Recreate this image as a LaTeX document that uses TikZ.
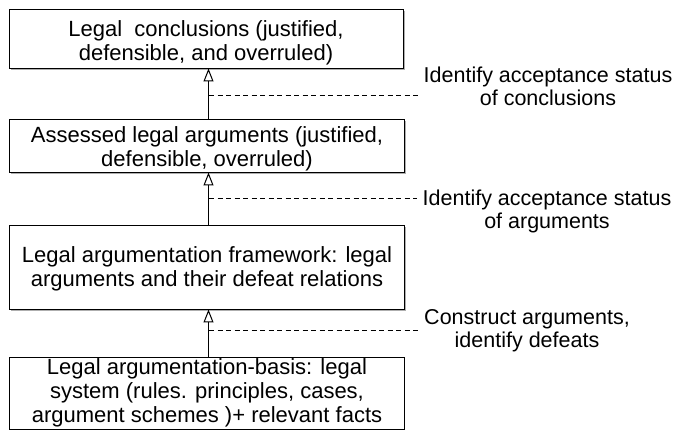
\documentclass[tikz,border=0pt]{standalone}
\usepackage{fontspec}
\setmainfont{Liberation Sans}
\usetikzlibrary{arrows.meta,shadows}
\begin{document}
\begin{tikzpicture}[x=1pt,y=-1pt,
  layerbox/.style={draw=black,line width=1.2pt,fill=white,
    drop shadow={shadow xshift=1.5pt,shadow yshift=-2pt,opacity=0.45,fill=black!70}},
  plainbox/.style={draw=black,line width=1.2pt,fill=white},
  boxtext/.style={anchor=base,align=center,inner sep=0pt,
    font=\fontsize{22}{24}\selectfont},
  steptext/.style={anchor=base,align=center,inner sep=0pt,
    font=\fontsize{21.5}{23.5}\selectfont},
  derive/.style={draw=black,line width=0.9pt,
    -{Triangle[open,width=10pt,length=13pt,line width=1pt]}},
  stepline/.style={draw=black,line width=1pt,dash pattern=on 5pt off 3.5pt}
]
\useasboundingbox (0,0) rectangle (678,430);

% layered boxes, bottom to top
\path[plainbox] (9.5,357.5) rectangle (404.5,429.5);
\coordinate (b4top) at (208.5,357.5);
\path[layerbox] (9.5,225.5) rectangle (404.5,309.5);
\coordinate (b3top) at (208.5,225.5);
\coordinate (b3bot) at (208.5,309.5);
\path[layerbox] (9.5,119.5) rectangle (404.5,172.5);
\coordinate (b2top) at (208.5,119.5);
\coordinate (b2bot) at (208.5,172.5);
\path[layerbox] (9.5,9.5) rectangle (403.5,68.5);
\coordinate (b1bot) at (208.5,68.5);

% box texts (anchored at the baseline of their last line)
\node[boxtext] (t1) at (206,61) {Legal\ \ conclusions (justified,\\defensible, and overruled)};
\node[boxtext] (t2) at (207,167) {Assessed legal arguments (justified,\\defensible, overruled)};
\node[boxtext] (t3) at (207,287) {Legal argumentation framework: legal\\arguments and their defeat relations};
\node[boxtext] (t4) at (207,423) {Legal argumentation-basis: legal\\system (rules. principles, cases,\\argument schemes )+ relevant facts};

% derivation arrows
\draw[derive] (b4top) -- (b3bot);
\draw[derive] (b3top) -- (b2bot);
\draw[derive] (b2top) -- (b1bot);

% step annotations
\coordinate (d1) at (209,95.5);
\coordinate (e1) at (419,95.5);
\coordinate (d2) at (209,198.5);
\coordinate (e2) at (417,198.5);
\coordinate (d3) at (209,330.5);
\coordinate (e3) at (418,330.5);
\draw[stepline] (d1) -- (e1);
\draw[stepline] (d2) -- (e2);
\draw[stepline] (d3) -- (e3);

\node[steptext] (s1) at (548,106) {Identify acceptance status\\of conclusions};
\node[steptext] (s2) at (547,229) {Identify acceptance status\\of arguments};
\node[steptext] (s3) at (527,348) {Construct arguments,\\identify defeats};
\end{tikzpicture}
\end{document}
